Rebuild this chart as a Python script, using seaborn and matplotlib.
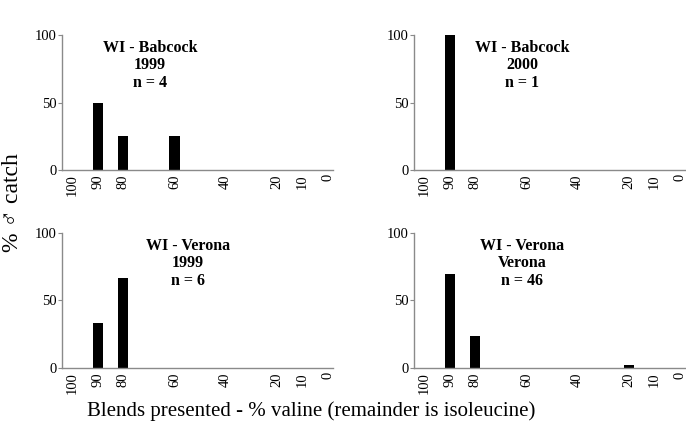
import matplotlib
matplotlib.use("Agg")
import matplotlib.pyplot as plt
import pandas as pd
import seaborn as sns

# blends presented: % valine
blends = [100, 90, 80, 60, 40, 20, 10, 0]

panel_titles = [
    "WI - Babcock\n1999\nn = 4",
    "WI - Babcock\n2000\nn = 1",
    "WI - Verona\n1999\nn = 6",
    "WI - Verona\nVerona\nn = 46",
]

# % male catch per blend, one list per panel
babcock_1999 = [0, 50, 25, 25, 0, 0, 0, 0]
babcock_2000 = [0, 100, 0, 0, 0, 0, 0, 0]
verona_1999 = [0, 33.3, 66.7, 0, 0, 0, 0, 0]
verona_all = [0, 69.6, 23.9, 0, 0, 2.2, 0, 0]

panel_values = [babcock_1999, babcock_2000, verona_1999, verona_all]
title_x = [0.325, 0.40, 0.465, 0.40]

sns.set_theme(style="ticks")
plt.rcParams["font.family"] = ["Liberation Serif", "DejaVu Serif"]
plt.rcParams["text.color"] = "black"
plt.rcParams["xtick.color"] = "black"
plt.rcParams["ytick.color"] = "black"

fig = plt.figure(figsize=(6.86, 4.28), dpi=100)
positions = [
    [0.0904, 0.6028, 0.395, 0.3154],
    [0.6035, 0.6028, 0.395, 0.3154],
    [0.0904, 0.1402, 0.395, 0.3154],
    [0.6035, 0.1402, 0.395, 0.3154],
]

spine_color = "#8a8a8a"

for pos, values, title, tx in zip(positions, panel_values, panel_titles, title_x):
    ax = fig.add_axes(pos)
    df = pd.DataFrame({"blend": blends, "catch": values})
    sns.barplot(
        data=df,
        x="blend",
        y="catch",
        native_scale=True,
        width=0.4,
        color="black",
        saturation=1,
        linewidth=0,
        errorbar=None,
        ax=ax,
    )
    ax.set_xlim(104, -2)
    ax.set_ylim(0, 100)
    ax.set_xticks(blends)
    ax.set_xticklabels([str(b) for b in blends], rotation=90, fontsize=10.5)
    ax.set_yticks([0, 50, 100])
    ax.set_yticklabels(["0", "50", "100"], fontsize=10.5)
    ax.tick_params(axis="x", length=0, pad=3)
    ax.tick_params(axis="y", length=3, width=0.8, color=spine_color, pad=1)
    for side in ["top", "right"]:
        ax.spines[side].set_visible(False)
    for side in ["left", "bottom"]:
        ax.spines[side].set_color(spine_color)
        ax.spines[side].set_linewidth(1.0)
    ax.set_xlabel("")
    ax.set_ylabel("")
    ax.text(
        tx, 0.965, title,
        transform=ax.transAxes,
        ha="center", va="top",
        fontsize=11.5, fontweight="bold",
        linespacing=1.12,
    )

fig.text(0.0175, 0.526, "% \u2642 catch", rotation=90, ha="center", va="center", fontsize=17)
fig.text(0.453, 0.04, "Blends presented - % valine (remainder is isoleucine)",
         ha="center", va="center", fontsize=15)

fig.savefig("out.png", dpi=100)
